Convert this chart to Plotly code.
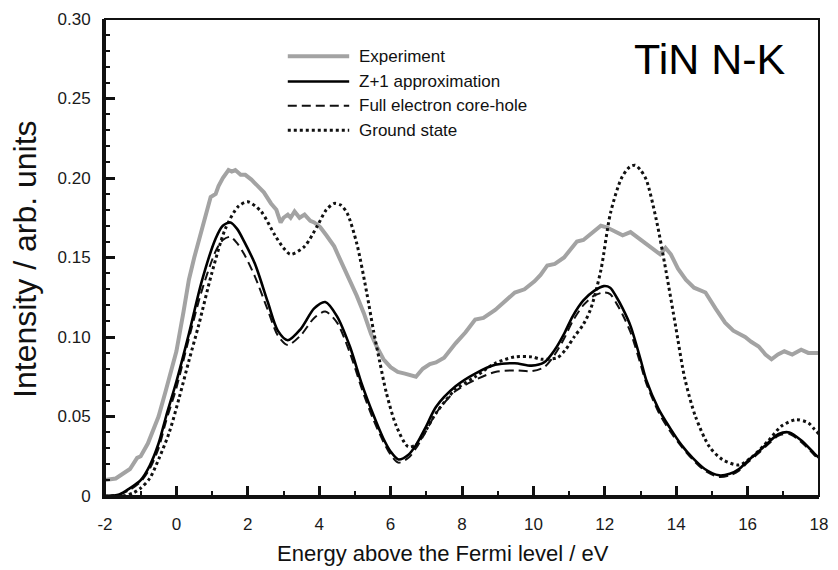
import plotly.graph_objects as go

# ---------------- data ----------------
exp_x = [-2.0, -1.7, -1.5, -1.3, -1.1, -1.0, -0.8, -0.5, -0.3, 0.0, 0.2, 0.35, 0.5, 0.71, 0.85,
         0.96, 1.1, 1.18, 1.3, 1.46, 1.55, 1.65, 1.8, 1.93, 2.1, 2.29, 2.45, 2.65, 2.8, 2.92,
         3.0, 3.12, 3.2, 3.31, 3.45, 3.59, 3.75, 3.86, 4.03, 4.2, 4.42, 4.6, 4.86, 5.05, 5.25,
         5.45, 5.61, 5.8, 6.0, 6.2, 6.4, 6.6, 6.71, 6.9, 7.1, 7.27, 7.5, 7.82, 8.1, 8.37, 8.6,
         8.93, 9.2, 9.48, 9.75, 10.03, 10.2, 10.39, 10.6, 10.86, 11.0, 11.22, 11.4, 11.61, 11.89,
         12.05, 12.25, 12.5, 12.72, 12.95, 13.16, 13.35, 13.55, 13.7, 13.85, 14.05, 14.27, 14.5,
         14.82, 15.1, 15.37, 15.6, 15.93, 16.1, 16.31, 16.5, 16.67, 16.85, 17.03, 17.25, 17.5,
         17.7, 18.0]
exp_y = [0.010, 0.011, 0.014, 0.017, 0.024, 0.025, 0.033, 0.050, 0.066, 0.091, 0.116, 0.136, 0.150,
         0.168, 0.178, 0.188, 0.190, 0.195, 0.200, 0.205, 0.204, 0.205, 0.202, 0.202, 0.199, 0.195,
         0.191, 0.184, 0.180, 0.172, 0.175, 0.177, 0.175, 0.179, 0.175, 0.177, 0.173, 0.172, 0.169,
         0.164, 0.157, 0.148, 0.136, 0.126, 0.115, 0.102, 0.094, 0.086, 0.081, 0.078, 0.077, 0.076,
         0.075, 0.080, 0.083, 0.084, 0.087, 0.096, 0.103, 0.111, 0.112, 0.117, 0.122, 0.128, 0.130,
         0.135, 0.139, 0.145, 0.146, 0.150, 0.154, 0.160, 0.161, 0.165, 0.170, 0.169, 0.167, 0.164,
         0.166, 0.162, 0.159, 0.155, 0.152, 0.156, 0.152, 0.143, 0.136, 0.131, 0.128, 0.118, 0.109,
         0.104, 0.100, 0.097, 0.094, 0.089, 0.086, 0.089, 0.091, 0.089, 0.092, 0.090, 0.090]

calc_x = [-2.0, -1.6, -1.3, -1.0, -0.75, -0.5, -0.29, 0.0, 0.35, 0.71, 1.1, 1.3, 1.51, 1.7, 1.9,
          2.2, 2.56, 2.84, 3.12, 3.48, 3.86, 4.17, 4.5, 4.86, 5.2, 5.5, 5.8, 6.0, 6.22, 6.5, 6.71,
          7.0, 7.27, 7.82, 8.37, 8.93, 9.48, 9.95, 10.3, 10.6, 10.86, 11.1, 11.4, 11.7, 11.97,
          12.15, 12.33, 12.5, 12.72, 13.0, 13.16, 13.5, 13.82, 14.15, 14.46, 14.8, 15.2, 15.5,
          15.76, 16.0, 16.31, 16.6, 16.87, 17.17, 17.5, 17.86, 18.0]
z1_y = [0.0, 0.001, 0.005, 0.010, 0.019, 0.033, 0.050, 0.072, 0.102, 0.135, 0.162, 0.170, 0.172,
        0.168, 0.160, 0.146, 0.122, 0.104, 0.098, 0.105, 0.118, 0.122, 0.113, 0.094, 0.070, 0.052,
        0.036, 0.028, 0.023, 0.026, 0.032, 0.044, 0.056, 0.069, 0.077, 0.0825, 0.0835, 0.082,
        0.084, 0.092, 0.102, 0.113, 0.123, 0.129, 0.132, 0.131, 0.125, 0.118, 0.107, 0.086, 0.073,
        0.055, 0.043, 0.032, 0.024, 0.017, 0.013, 0.014, 0.017, 0.022, 0.028, 0.034, 0.039, 0.040,
        0.035, 0.027, 0.024]
core_hole_y = [0.0, 0.001, 0.004, 0.009, 0.017, 0.030, 0.047, 0.068, 0.099, 0.129, 0.154, 0.161,
               0.163, 0.159, 0.152, 0.138, 0.117, 0.101, 0.095, 0.101, 0.112, 0.116, 0.109, 0.090,
               0.067, 0.049, 0.034, 0.026, 0.021, 0.024, 0.030, 0.041, 0.052, 0.066, 0.073, 0.078,
               0.079, 0.0785, 0.081, 0.089, 0.099, 0.110, 0.120, 0.126, 0.128, 0.127, 0.121, 0.114,
               0.103, 0.083, 0.071, 0.053, 0.041, 0.031, 0.023, 0.016, 0.012, 0.013, 0.016, 0.021,
               0.027, 0.033, 0.038, 0.039, 0.034, 0.026, 0.023]

gs_x = [-2.0, -1.5, -1.2, -1.0, -0.75, -0.48, -0.2, 0.08, 0.35, 0.63, 0.99, 1.37, 1.73, 2.0, 2.37,
        2.76, 3.0, 3.2, 3.59, 3.95, 4.2, 4.42, 4.6, 4.78, 5.05, 5.33, 5.52, 5.7, 5.88, 6.16, 6.49,
        6.7, 6.9, 7.27, 7.82, 8.37, 8.93, 9.48, 9.95, 10.23, 10.67, 10.9, 11.14, 11.4, 11.61, 11.89,
        12.16, 12.47, 12.7, 12.85, 13.0, 13.16, 13.44, 13.71, 13.99, 14.24, 14.54, 14.93, 15.29,
        15.76, 16.12, 16.59, 16.95, 17.36, 17.7, 17.87, 18.0]
gs_y = [0.0, 0.0, 0.002, 0.005, 0.011, 0.024, 0.040, 0.062, 0.085, 0.108, 0.140, 0.168, 0.182,
        0.185, 0.179, 0.164, 0.156, 0.152, 0.157, 0.170, 0.180, 0.184, 0.183, 0.178, 0.159, 0.128,
        0.104, 0.084, 0.065, 0.044, 0.031, 0.032, 0.038, 0.052, 0.067, 0.075, 0.0835, 0.0875,
        0.0875, 0.086, 0.087, 0.092, 0.100, 0.108, 0.118, 0.142, 0.178, 0.200, 0.207, 0.208, 0.205,
        0.199, 0.174, 0.142, 0.106, 0.074, 0.050, 0.031, 0.023, 0.0195, 0.0245, 0.035, 0.044, 0.048,
        0.046, 0.042, 0.039]

x_ticks = [-2, 0, 2, 4, 6, 8, 10, 12, 14, 16, 18]
y_ticks = [0, 0.05, 0.10, 0.15, 0.20, 0.25, 0.30]
y_tick_text = ["0", "0.05", "0.10", "0.15", "0.20", "0.25", "0.30"]

series_names = ["Experiment", "Z+1 approximation", "Full electron core-hole", "Ground state"]
series_colors = ["#a3a3a3", "#000000", "#111111", "#111111"]
series_widths = [4, 2.6, 2, 3]
series_dash = ["solid", "solid", "9px,5px", "3px,3px"]

# ---------------- figure ----------------
FONT = "Liberation Sans, Arial, sans-serif"
fig = go.Figure()

fig.add_trace(go.Scatter(x=exp_x, y=exp_y, mode="lines", name=series_names[0],
                         line=dict(color=series_colors[0], width=series_widths[0], dash=series_dash[0])))
fig.add_trace(go.Scatter(x=gs_x, y=gs_y, mode="lines", name=series_names[3],
                         line=dict(color=series_colors[3], width=series_widths[3], dash=series_dash[3],
                                   shape="spline", smoothing=0.8)))
fig.add_trace(go.Scatter(x=calc_x, y=core_hole_y, mode="lines", name=series_names[2],
                         line=dict(color=series_colors[2], width=series_widths[2], dash=series_dash[2],
                                   shape="spline", smoothing=0.8)))
fig.add_trace(go.Scatter(x=calc_x, y=z1_y, mode="lines", name=series_names[1],
                         line=dict(color=series_colors[1], width=series_widths[1], dash=series_dash[1],
                                   shape="spline", smoothing=0.8)))

# manual legend (line samples + labels) in paper coordinates
leg_y = [0.922, 0.869, 0.818, 0.767]
shapes = []
annotations = []
for i, name in enumerate(series_names):
    shapes.append(dict(type="line", xref="paper", yref="paper", x0=0.256, x1=0.342,
                       y0=leg_y[i], y1=leg_y[i],
                       line=dict(color=series_colors[i], width=series_widths[i], dash=series_dash[i])))
    annotations.append(dict(xref="paper", yref="paper", x=0.353, y=leg_y[i], text=name,
                            showarrow=False, xanchor="left", yanchor="middle",
                            font=dict(family=FONT, size=17, color="#111111")))

# frame (thin top/right border)
shapes.append(dict(type="rect", xref="paper", yref="paper", x0=0, x1=1, y0=0, y1=1,
                   line=dict(color="#111111", width=2), layer="above"))

annotations.append(dict(xref="paper", yref="paper", x=0.957, y=0.916, text="TiN N-K",
                        showarrow=False, xanchor="right", yanchor="middle",
                        font=dict(family=FONT, size=43, color="#000000")))
annotations.append(dict(xref="paper", yref="paper", x=0.473, y=-0.1195,
                        text="Energy above the Fermi level / eV", showarrow=False,
                        xanchor="center", yanchor="middle",
                        font=dict(family=FONT, size=22, color="#111111")))
annotations.append(dict(xref="paper", yref="paper", x=-0.112, y=0.495,
                        text="Intensity / arb. units", showarrow=False, textangle=-90,
                        xanchor="center", yanchor="middle",
                        font=dict(family=FONT, size=32, color="#111111")))

fig.update_layout(
    width=838, height=570,
    margin=dict(l=105, r=10, t=19, b=74, pad=0),
    paper_bgcolor="white", plot_bgcolor="white",
    showlegend=False,
    shapes=shapes, annotations=annotations,
    font=dict(family=FONT, size=17, color="#1a1a1a"),
)
fig.update_xaxes(range=[-2, 18], tickvals=x_ticks, ticktext=[str(v) for v in x_ticks],
                 showgrid=False, zeroline=False, showline=True, linecolor="#111111", linewidth=3,
                 ticks="inside", ticklen=10, tickwidth=2.5, tickcolor="#111111",
                 ticklabelstandoff=11,
                 minor=dict(dtick=1, tick0=-2, ticks="inside", ticklen=5, tickwidth=2,
                            tickcolor="#111111", showgrid=False),
                 tickfont=dict(family=FONT, size=17, color="#1a1a1a"))
fig.update_yaxes(range=[0, 0.30], tickvals=y_ticks, ticktext=y_tick_text,
                 showgrid=False, zeroline=False, showline=True, linecolor="#111111", linewidth=3,
                 ticks="inside", ticklen=10, tickwidth=2.5, tickcolor="#111111",
                 ticklabelstandoff=8,
                 minor=dict(dtick=0.01, tick0=0, ticks="inside", ticklen=5, tickwidth=2,
                            tickcolor="#111111", showgrid=False),
                 tickfont=dict(family=FONT, size=17, color="#1a1a1a"))

fig.write_html("out.html")
